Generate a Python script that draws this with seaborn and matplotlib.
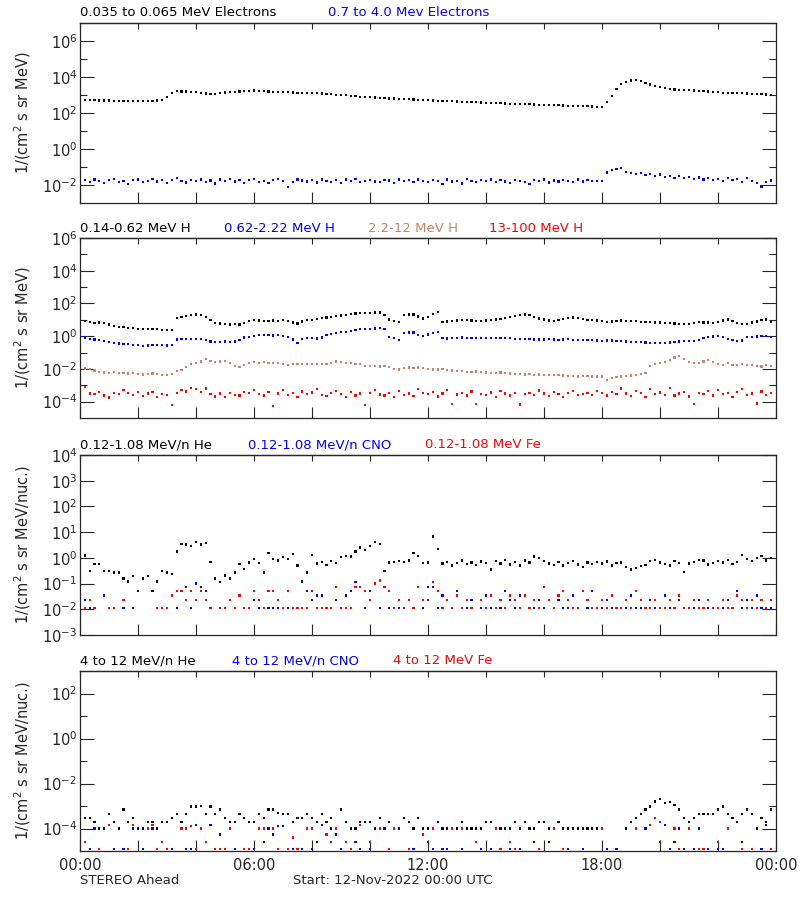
import numpy as np
import pandas as pd
import seaborn as sns
from matplotlib import pyplot as plt
from matplotlib import ticker

sns.set_style("ticks")
plt.rcParams['font.family'] = ['DejaVu Sans']

# 10-minute samples over the day, values are log10 of the flux
hours = np.arange(144) / 6.0
N = None

e_low = [2.72, 2.72, 2.71, 2.71, 2.70, 2.70, 2.69, 2.68, 2.67, 2.66, 2.66, 2.66,
         2.66, 2.66, 2.66, 2.67, 2.69, 2.73, 2.90, 3.10, 3.22, 3.20, 3.19, 3.18,
         3.16, 3.12, 3.08, 3.05, 3.06, 3.10, 3.14, 3.16, 3.18, 3.20, 3.22, 3.24,
         3.25, 3.24, 3.22, 3.20, 3.18, 3.17, 3.16, 3.15, 3.14, 3.13, 3.12, 3.11,
         3.10, 3.09, 3.08, 3.06, 3.04, 3.02, 3.00, 2.98, 2.95, 2.93, 2.91, 2.90,
         2.88, 2.86, 2.84, 2.83, 2.81, 2.80, 2.78, 2.77, 2.76, 2.75, 2.74, 2.72,
         2.71, 2.70, 2.68, 2.67, 2.66, 2.65, 2.64, 2.62, 2.61, 2.60, 2.59, 2.58,
         2.57, 2.56, 2.55, 2.54, 2.53, 2.52, 2.51, 2.50, 2.49, 2.48, 2.47, 2.46,
         2.45, 2.44, 2.43, 2.43, 2.42, 2.41, 2.40, 2.39, 2.38, 2.37, 2.36, 2.35,
         2.35, 2.60, 2.95, 3.35, 3.62, 3.74, 3.80, 3.83, 3.78, 3.66, 3.58, 3.52,
         3.45, 3.38, 3.33, 3.30, 3.28, 3.27, 3.26, 3.25, 3.24, 3.22, 3.20, 3.18,
         3.15, 3.13, 3.12, 3.11, 3.10, 3.09, 3.08, 3.07, 3.06, 3.04, 3.03, 3.02]

e_high = [-1.80, -1.72, -1.85, -1.70, -1.76, -1.90, -1.74, -1.68, -1.82, -1.77, -1.95, -1.73,
          -1.70, -1.84, -1.78, -1.66, -1.80, -1.74, -1.88, -1.72, -1.63, -1.79, -1.86, -1.71,
          -1.76, -1.69, -1.83, -1.75, -1.92, -1.70, -1.78, -1.67, -1.81, -1.74, -1.87, -1.72,
          -1.68, -1.82, -1.76, -1.90, -1.71, -1.66, -1.79, -2.12, -1.84, -1.70, -1.75, -1.81,
          -1.73, -1.86, -1.69, -1.78, -1.82, -1.74, -1.91, -1.70, -1.77, -1.68, -1.83, -1.76,
          -1.72, -1.80, -1.85, -1.71, -1.75, -1.88, -1.69, -1.79, -1.74, -1.82, -1.70, -1.77,
          -1.84, -1.73, -1.78, -1.95, -1.70, -1.81, -1.76, -1.92, -1.68, -1.79, -1.85, -1.72,
          -1.77, -1.69, -1.83, -1.74, -1.80, -1.88, -1.71, -1.76, -1.82, -1.94, -1.73, -1.79,
          -1.70, -1.86, -1.75, -1.81, -1.72, -1.78, -1.84, -1.69, -1.80, -1.74, -1.77, -1.79,
          -1.78, -1.30, -1.15, -1.12, -1.05, -1.28, -1.35, -1.40, -1.33, -1.45, -1.38, -1.50,
          -1.42, -1.55, -1.48, -1.60, -1.52, -1.62, -1.56, -1.66, -1.58, -1.70, -1.61, -1.74,
          -1.65, -1.78, -1.60, -1.72, -1.68, -1.85, -1.63, -1.76, -1.90, -2.08, -1.82, -1.75]

h_low = [1.02, 0.95, 0.85, 0.82, 0.84, 0.80, 0.72, 0.62, 0.57, 0.55, 0.52, 0.48,
         0.45, 0.43, 0.43, 0.42, 0.44, 0.40, 0.37, 0.36, 1.10, 1.18, 1.22, 1.28,
         1.32, 1.30, 1.18, 1.00, 0.82, 0.77, 0.74, 0.72, 0.75, 0.72, 0.80, 0.92,
         0.98, 0.96, 0.95, 0.94, 0.96, 0.95, 0.97, 0.95, 0.84, 0.77, 0.90, 0.98,
         1.00, 1.05, 1.10, 1.14, 1.18, 1.22, 1.26, 1.30, 1.34, 1.38, 1.40, 1.42,
         1.42, 1.44, 1.45, 1.30, 1.02, 0.95, 0.88, 1.28, 1.32, 1.33, 1.20, 1.08,
         1.15, 1.35, 1.46, 0.88, 0.90, 0.93, 0.96, 0.98, 0.97, 0.96, 0.95, 0.95,
         0.96, 0.98, 1.02, 1.05, 1.12, 1.18, 1.22, 1.28, 1.32, 1.30, 1.15, 1.08,
         1.02, 0.96, 0.95, 1.00, 1.06, 1.12, 1.14, 1.10, 1.05, 1.00, 0.98, 0.96,
         0.92, 0.88, 0.90, 0.94, 0.96, 0.95, 0.94, 0.92, 0.88, 0.85, 0.86, 0.84,
         0.83, 0.82, 0.80, 0.77, 0.74, 0.73, 0.76, 0.82, 0.85, 0.84, 0.83, 0.82,
         0.88, 0.96, 1.02, 0.95, 0.82, 0.74, 0.76, 0.84, 0.90, 0.98, 1.02, 0.88]

h_mid = [0.00, -0.08, -0.18, -0.20, -0.22, -0.28, -0.35, -0.42, -0.45, -0.48, -0.50, -0.52,
         -0.55, -0.58, -0.57, -0.56, -0.54, -0.56, -0.57, -0.55, -0.20, -0.17, -0.15, -0.16,
         -0.16, -0.18, -0.24, -0.32, -0.34, -0.35, -0.33, -0.34, -0.32, -0.24, -0.08, -0.06,
         0.02, 0.05, 0.06, 0.06, 0.04, 0.06, 0.03, -0.05, -0.20, -0.40, -0.18, -0.10,
         -0.12, -0.14, -0.08, 0.06, 0.12, 0.18, 0.24, 0.27, 0.32, 0.38, 0.43, 0.45,
         0.46, 0.47, 0.48, 0.44, -0.06, -0.12, -0.24, 0.20, 0.23, 0.22, 0.05, -0.01,
         0.10, 0.20, 0.27, -0.12, -0.14, -0.13, -0.10, -0.08, -0.10, -0.11, -0.09, -0.10,
         -0.12, -0.10, -0.09, -0.11, -0.10, -0.13, -0.15, -0.17, -0.18, -0.19, -0.20, -0.21,
         -0.20, -0.19, -0.21, -0.22, -0.20, -0.19, -0.22, -0.24, -0.23, -0.22, -0.25, -0.27,
         -0.28, -0.26, -0.27, -0.30, -0.31, -0.33, -0.35, -0.34, -0.36, -0.38, -0.40, -0.41,
         -0.40, -0.41, -0.38, -0.36, -0.33, -0.30, -0.31, -0.28, -0.22, -0.12, -0.04, -0.02,
         0.00, -0.06, -0.18, -0.25, -0.30, -0.26, -0.06, -0.04, -0.02, 0.00, 0.02, -0.05]

h_high = [-1.97, -1.98, -2.02, -2.10, -2.18, -2.22, -2.24, -2.20, -2.25, -2.24, -2.28, -2.23,
          -2.30, -2.34, -2.32, -2.28, -2.33, -2.35, -2.38, -2.30, -2.12, -2.08, -1.90, -1.72,
          -1.65, -1.55, -1.40, -1.52, -1.58, -1.54, -1.50, -1.62, -1.82, -1.88, -1.78, -1.62,
          -1.60, -1.62, -1.60, -1.63, -1.64, -1.62, -1.68, -1.76, -1.72, -1.70, -1.69, -1.71,
          -1.72, -1.70, -1.68, -1.70, -1.62, -1.55, -1.58, -1.62, -1.66, -1.70, -1.72, -1.80,
          -1.83, -1.82, -1.85, -1.84, -1.90, -2.00, -2.04, -1.95, -1.92, -1.94, -1.92, -1.95,
          -2.00, -2.03, -2.04, -2.02, -2.06, -2.10, -2.12, -2.15, -2.17, -2.18, -2.16, -2.20,
          -2.22, -2.23, -2.24, -2.22, -2.26, -2.28, -2.30, -2.32, -2.34, -2.33, -2.36, -2.34,
          -2.35, -2.37, -2.38, -2.36, -2.40, -2.42, -2.44, -2.46, -2.45, -2.44, -2.47, -2.46,
          -2.47, -2.68, -2.55, -2.50, -2.47, -2.44, -2.40, -2.35, -2.30, -2.27, -1.80, -1.72,
          -1.66, -1.56, -1.45, -1.30, -1.22, -1.40, -1.58, -1.66, -1.62, -1.55, -1.46, -1.58,
          -1.70, -1.75, -1.62, -1.74, -1.76, -1.72, -1.78, -1.75, -1.80, -1.85, -1.76, -1.83]

h_top = [-3.35, -3.10, -3.50, -3.55, -3.40, -3.62, -3.75, -3.48, -3.52, -3.30, -3.45, -3.58,
         -3.40, -3.65, -3.50, -3.42, -3.70, -3.55, -3.60, -4.20, -3.48, -3.30, -3.38, -3.15,
         -3.25, -3.40, -3.20, -3.55, -3.68, -3.50, -3.72, -3.45, -3.58, -3.62, -3.40, -3.48,
         -3.30, -3.55, -3.62, -3.42, -4.25, -3.50, -3.28, -3.60, -3.45, -3.72, -3.38, -3.52,
         -3.44, -3.25, -3.58, -3.66, -3.48, -3.35, -3.55, -3.70, -3.40, -3.62, -3.50, -4.20,
         -3.45, -3.30, -3.56, -3.62, -3.48, -3.70, -3.35, -3.58, -3.50, -3.64, -3.22, -3.48,
         -3.55, -3.40, -3.68, -3.50, -3.30, -4.15, -3.56, -3.46, -3.62, -3.38, -4.15, -3.52,
         -3.58, -3.44, -3.70, -3.35, -3.50, -3.62, -3.48, -4.18, -3.55, -3.45, -3.60, -3.32,
         -3.50, -3.66, -3.40, -3.55, -3.72, -3.48, -3.36, -3.60, -3.52, -3.45, -3.58, -3.35,
         -3.48, -3.62, -3.40, -3.55, -3.20, -3.50, -3.65, -3.35, -3.48, -3.70, -3.25, -3.52,
         -3.44, -3.58, -3.18, -3.62, -3.50, -3.40, -3.68, -4.15, -3.45, -3.55, -3.35, -3.62,
         -3.30, -3.52, -3.48, -3.70, -3.42, -3.25, -3.58, -3.50, -4.12, -3.38, -3.60, -3.45]

he_low = [0.35, 0.09, -0.50, -0.23, -0.23, -0.50, -0.50, -0.57, -0.57, -0.80, -0.92, -0.70,
          -1.28, -0.80, -0.70, -1.28, -0.92, -0.50, -0.57, -0.64, 0.25, 0.55, 0.52, 0.45,
          0.62, 0.52, 0.58, -0.15, -0.80, -0.95, -0.69, -0.80, -0.57, -0.24, -0.42, -0.18,
          -0.04, -0.20, -0.57, 0.20, -0.04, -0.10, 0.02, -0.05, 0.15, -0.30, -0.92, -0.57,
          0.10, -0.22, -0.15, -0.28, -0.12, -0.20, 0.02, 0.08, 0.05, 0.25, 0.40, 0.32,
          0.45, 0.62, 0.55, -0.50, -0.18, -0.15, -0.12, -0.16, -0.10, 0.18, 0.08, -0.20,
          -0.18, 0.83, 0.35, -0.22, -0.15, -0.30, -0.20, -0.10, -0.25, -0.18, -0.28, -0.14,
          -0.20, -0.45, -0.12, -0.22, -0.08, -0.26, -0.15, -0.30, -0.10, -0.18, 0.05, -0.02,
          -0.12, -0.22, -0.28, -0.16, -0.30, -0.20, -0.12, -0.26, -0.35, -0.18, -0.24, -0.15,
          -0.22, -0.14, -0.30, -0.20, -0.18, -0.35, -0.45, -0.40, -0.32, -0.28, -0.12, -0.08,
          -0.18, -0.25, -0.30, -0.12, -0.20, -0.55, -0.22, -0.16, -0.08, -0.10, -0.26, -0.20,
          -0.12, -0.18, -0.08, -0.25, -0.15, 0.10, -0.05, -0.12, -0.02, 0.08, -0.10, -0.02]

cno_low = [-1.95, -1.64, -1.95, N, N, -1.46, -1.95, N, N, -1.95, N, -1.95,
           N, N, N, N, N, N, N, N, -1.95, -1.30, -1.14, -1.95,
           -1.00, -1.14, -1.30, -1.95, N, -1.95, -1.95, N, -1.95, N, N, -1.95,
           -1.64, -1.95, N, -1.95, -1.95, -1.95, N, -1.95, N, -1.95, -1.95, -1.30,
           -1.64, -1.46, -1.46, N, -1.95, -1.64, N, -1.46, -1.30, -0.95, -1.14, -1.95,
           -1.30, -1.00, -1.95, N, -1.95, -1.95, -1.95, N, -1.64, -1.95, -1.14, -1.95,
           -1.14, -1.14, -1.95, -1.46, -1.64, -1.95, -1.30, -1.95, -1.95, -1.64, N, -1.95,
           -1.46, -1.95, N, -1.95, -1.30, -1.64, -1.95, -1.46, N, -1.95, -1.95, -1.64,
           -1.95, N, -1.95, -1.64, -1.95, -1.95, -1.46, -1.95, N, -1.95, -1.30, -1.95,
           -1.95, -1.64, -1.95, N, -1.95, -1.95, -1.46, -1.95, -1.95, N, -1.64, -1.95,
           -1.95, -1.46, -1.95, -1.95, -1.64, -1.95, N, -1.95, -1.64, -1.95, -1.95, N,
           -1.95, -1.95, -1.64, -1.95, -1.30, -1.95, -1.64, -1.95, -1.46, -1.95, -1.95, -1.95]

fe_low = [-1.46, -1.95, -1.64, -1.95, N, N, -1.95, -1.95, N, -1.64, N, N,
          N, N, N, N, -1.95, -1.95, -1.95, -1.46, -1.30, -1.30, -1.64, -1.30,
          -1.64, -1.30, -1.64, -1.95, N, -1.95, -1.95, -1.64, -1.95, -1.46, -1.95, -1.95,
          -1.30, -1.64, -1.95, -1.30, -1.30, -1.64, -1.95, -1.30, -1.95, -1.95, -1.95, -1.95,
          -1.30, -1.95, -1.95, -1.95, -1.95, -1.14, -1.95, -1.95, -1.95, -1.14, -1.14, -1.30,
          -1.64, -1.00, -0.88, -1.14, -1.30, -1.95, -1.64, -1.95, -1.64, -1.95, -1.14, -1.64,
          -1.64, -0.95, -1.30, -1.95, -1.64, -1.95, -1.46, -1.95, -1.64, -1.95, N, -1.64,
          -1.95, -1.46, -1.95, -1.64, -1.95, -1.46, -1.64, -1.95, -1.46, -1.95, -1.64, -1.95,
          -1.14, -1.64, -1.95, -1.46, -1.30, -1.64, -1.95, -1.95, -1.30, -1.64, -1.95, -1.95,
          -1.64, -1.95, -1.46, -1.95, -1.95, -1.64, -1.95, -1.30, -1.64, -1.95, -1.95, -1.64,
          -1.95, -1.95, -1.64, -1.95, -1.46, -1.95, -1.95, -1.64, -1.95, -1.95, -1.64, -1.95,
          -1.95, -1.64, -1.95, -1.95, -1.46, -1.64, -1.95, -1.64, -1.95, -1.64, -1.95, -1.64]

he_high = [-3.72, -3.54, -3.54, -3.72, -4.00, -4.00, -3.35, -3.72, -4.00, -3.16, -3.72, -3.54,
           -4.00, -4.00, -3.72, -3.72, -4.00, -3.72, -3.72, -3.54, -3.35, -3.72, -3.35, -3.02,
           -3.02, -3.00, -3.35, -3.02, -3.35, -3.16, -3.54, -3.72, -3.72, -3.35, -3.54, -3.72,
           -3.72, -3.35, -3.54, -3.16, -3.16, -3.30, -3.35, -3.35, -3.72, -3.54, -3.54, -3.35,
           -3.54, -3.72, -3.35, -3.72, -3.54, -4.00, -3.16, -3.72, -4.00, -4.00, -3.72, -3.72,
           -3.72, -4.00, -3.54, -4.00, -3.72, -4.00, -4.00, -3.54, -3.72, -4.00, -3.54, -4.00,
           -4.00, -4.00, -3.72, -4.00, -4.00, -4.00, -4.00, -3.72, -4.00, -4.00, -4.00, -4.00,
           -3.72, -3.72, -4.00, -4.00, -4.00, -4.00, -3.72, -4.00, -3.72, -4.00, -4.00, -3.72,
           -3.72, -4.00, -4.00, -3.72, -4.00, -4.00, -4.00, -4.00, -4.00, -4.00, -4.00, -4.00,
           -4.00, N, N, N, N, -4.00, -3.72, -3.54, -3.35, -3.16, -3.02, -2.80,
           -2.70, -2.88, -2.82, -2.95, -3.16, -3.54, -3.72, -3.54, -3.35, -3.35, -3.35, -3.35,
           -3.16, -3.02, -3.35, -3.54, -3.72, -3.35, -3.16, -3.35, -4.00, -3.54, -3.72, -3.16]

cno_high = [-4.92, -4.60, -4.92, -4.00, -4.92, N, N, -4.92, N, -4.92, N, -4.00,
            N, -4.92, N, -4.00, N, N, N, -4.92, N, N, -4.92, -4.92,
            -3.85, N, N, -3.85, N, -4.27, N, N, -4.92, N, N, -4.92,
            -4.92, N, -4.60, -4.00, -4.27, -3.90, -3.90, N, -4.92, N, -4.92, N,
            -4.92, -4.60, -3.85, N, -4.00, -4.27, -4.92, N, -4.92, -4.60, -4.92, N,
            -4.92, N, N, -4.00, N, N, -4.00, N, N, -4.92, N, N,
            -4.60, -4.92, N, -4.92, -4.92, N, N, -4.92, N, N, N, -4.92,
            N, -4.92, N, N, N, -4.92, N, -4.92, N, N, -4.60, -4.92,
            N, -4.60, N, N, -4.92, -4.92, N, N, -4.92, N, N, N,
            N, -4.92, N, -4.92, N, N, N, N, N, -4.00, N, N,
            -4.60, -3.85, -4.92, -4.60, -4.00, -4.92, N, -4.92, -4.00, N, -4.92, N,
            -4.92, -4.92, N, N, N, -4.60, N, -4.92, N, -4.92, -3.85, -4.92]

fe_high = [N, -4.60, N, N, -4.92, N, -3.85, N, N, N, -4.92, -3.85,
           N, N, -4.00, -3.85, -4.92, -4.60, -4.92, N, N, -4.00, -4.00, -3.90,
           -4.92, -4.00, -4.60, N, -4.92, -4.92, -4.92, -4.00, N, N, -4.92, -4.92,
           N, -4.00, -4.00, N, -4.00, -4.92, N, -4.92, -4.40, -4.92, N, -4.00,
           -4.00, N, N, -4.27, -4.60, -4.00, N, -4.60, -4.92, N, -3.85, N,
           -4.60, N, -4.00, N, -4.92, -4.00, N, N, -4.92, N, N, -4.27,
           N, -4.00, N, N, N, -4.00, N, -4.00, N, N, -4.60, N,
           N, N, -4.00, -4.92, N, -4.60, -4.92, N, N, N, N, -4.92,
           N, N, -4.00, N, -4.92, N, N, N, N, N, N, N,
           -4.00, N, N, N, N, N, N, -4.00, N, N, -3.85, -3.54,
           -3.72, N, N, -4.00, -4.92, N, -4.00, N, -4.92, -4.92, N, N,
           -4.60, N, -4.00, N, N, -4.92, N, -4.92, N, N, N, -4.92]

BROWN = "#c8846a"


def long_frame(series):
    parts = []
    for name, vals in series:
        v = np.array([np.nan if x is None else x for x in vals], dtype=float)
        parts.append(pd.DataFrame({"hours": hours, "flux": 10.0 ** v, "series": name}))
    return pd.concat(parts).dropna()


unit_a = "1/(cm$^2$ s sr MeV)"
unit_b = "1/(cm$^2$ s sr MeV/nuc.)"

panels = [
    dict(bottom=1 - 203 / 900, series=[("0.035 to 0.065 MeV Electrons", e_low, "black", 80),
                                       ("0.7 to 4.0 Mev Electrons", e_high, "blue", 328)],
         ylim=(-3, 7), major=[-2, 0, 2, 4, 6], minor=[-1, 1, 3, 5], ylabel=unit_a),
    dict(bottom=1 - 418 / 900, series=[("0.14-0.62 MeV H", h_low, "black", 80),
                                       ("0.62-2.22 MeV H", h_mid, "blue", 224),
                                       ("2.2-12 MeV H", h_high, BROWN, 368),
                                       ("13-100 MeV H", h_top, "red", 489)],
         ylim=(-5, 6), major=[-4, -2, 0, 2, 4, 6], minor=[-3, -1, 1, 3, 5], ylabel=unit_a),
    dict(bottom=1 - 635 / 900, series=[("0.12-1.08 MeV/n He", he_low, "black", 80),
                                       ("0.12-1.08 MeV/n CNO", cno_low, "blue", 248),
                                       ("0.12-1.08 MeV Fe", fe_low, "red", 425)],
         ylim=(-3, 4), major=[-3, -2, -1, 0, 1, 2, 3, 4], minor=[], ylabel=unit_b),
    dict(bottom=1 - 851 / 900, series=[("4 to 12 MeV/n He", he_high, "black", 80),
                                       ("4 to 12 MeV/n CNO", cno_high, "blue", 232),
                                       ("4 to 12 MeV Fe", fe_high, "red", 393)],
         ylim=(-5, 3), major=[-4, -2, 0, 2], minor=[-3, -1, 1], ylabel=unit_b),
]

fig = plt.figure(figsize=(8, 9), dpi=100)
fig.patch.set_facecolor("white")

for k, p in enumerate(panels):
    ax = fig.add_axes([80 / 800, p["bottom"], 696 / 800, 180 / 900])
    df = long_frame([(s[0], s[1]) for s in p["series"]])
    palette = {s[0]: s[2] for s in p["series"]}
    sns.scatterplot(data=df, x="hours", y="flux", hue="series", palette=palette,
                    hue_order=[s[0] for s in p["series"]], marker="s", s=2.6,
                    linewidth=0, legend=False, ax=ax)
    ax.set_yscale("log")
    ax.set_ylim(10.0 ** p["ylim"][0], 10.0 ** p["ylim"][1])
    ax.set_xlim(0, 24)
    ax.set_yticks([10.0 ** e for e in p["major"]])
    ax.set_yticks([10.0 ** e for e in p["minor"]], minor=True)
    ax.yaxis.set_major_formatter(ticker.FuncFormatter(
        lambda v, pos: "$10^{%d}$" % round(np.log10(v))))
    ax.yaxis.set_minor_formatter(ticker.NullFormatter())
    ax.tick_params(axis="y", which="major", direction="in", left=True, right=True,
                   length=10, width=0.8, labelsize=10.5, pad=2)
    ax.tick_params(axis="y", which="minor", direction="in", left=True, right=True,
                   length=5, width=0.8)

    ax.set_xticks(np.arange(0, 25, 2))
    ax.xaxis.set_major_formatter(ticker.FuncFormatter(
        lambda v, pos: "%02d:00" % (int(round(v)) % 24) if round(v) % 6 == 0 else ""))
    ax.tick_params(axis="x", which="major", direction="in", bottom=True, top=False,
                   length=8, width=0.8, labelsize=10.5, pad=5,
                   labelbottom=(k == len(panels) - 1))
    top = ax.secondary_xaxis("top")
    top.set_xticks(np.arange(0, 25, 2))
    top.xaxis.set_major_formatter(ticker.NullFormatter())
    top.tick_params(axis="x", direction="in", length=4, width=0.8)

    for sp in ax.spines.values():
        sp.set_linewidth(0.9)
    top.spines["top"].set_linewidth(0.9)

    ax.set_xlabel(None)
    ax.set_ylabel(p["ylabel"], fontsize=10.5)
    ax.yaxis.set_label_coords(-47 / 696, 0.5)

    ty = p["bottom"] + 180 / 900 + 10 / 900
    for name, vals, color, px in p["series"]:
        fig.text(px / 800, ty, name, color=color, fontsize=9.5, va="center", ha="left")

fig.text(80 / 800, 1 - 881 / 900, "STEREO Ahead", fontsize=9.5, va="center", ha="left")
fig.text(293 / 800, 1 - 881 / 900, "Start: 12-Nov-2022 00:00 UTC", fontsize=9.5,
         va="center", ha="left")

plt.savefig("out.png", dpi=100, facecolor="white")
